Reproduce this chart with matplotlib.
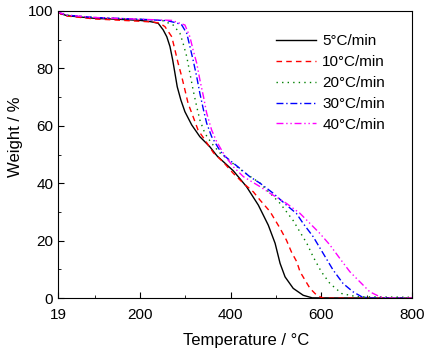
import matplotlib
matplotlib.use('Agg')
import matplotlib.pyplot as plt
from matplotlib.ticker import MultipleLocator, FixedLocator

plt.rcParams['font.family'] = ['Liberation Sans', 'DejaVu Sans']

# TGA curves (temperature in C, weight in %)
t_5 = [19, 25, 40, 100, 150, 200, 222, 240, 251, 259, 266, 272, 277, 282, 290, 299, 314, 332, 354, 370,
       406, 435, 461, 483, 498, 509, 520, 538, 560, 580, 800]
w_5 = [100, 99, 98.3, 97.4, 97.1, 96.7, 96.3, 95.7, 93.4, 91, 87.6, 82.9, 78.3, 73.6, 69, 64.9, 60.3, 56.2, 52.7, 49.5,
       44.3, 38.8, 32.4, 25.4, 19.1, 12.1, 7.4, 3.4, 1, 0.1, 0]

t_10 = [19, 25, 40, 100, 150, 200, 230, 244, 255, 270, 277, 284, 292, 299, 306, 317, 328, 343, 362, 384,
        406, 428, 450, 465, 487, 509, 523, 534, 546, 553, 564, 575, 590, 604, 800]
w_10 = [100, 98.9, 98.2, 97.2, 96.8, 96.4, 96.1, 95.7, 94.5, 91, 86.4, 81.8, 77.1, 72.5, 67.8, 63.2, 58.5, 55.1, 50.6, 47.3,
        43.4, 40, 37, 34.1, 30.1, 24.3, 20.2, 16.1, 12.6, 9.2, 6.3, 3.4, 1, 0, 0]

t_20 = [19, 25, 40, 100, 200, 250, 273, 288, 295, 303, 310, 317, 325, 332, 343, 358, 376, 400, 428, 465,
        487, 509, 538, 553, 568, 582, 600, 619, 645, 678, 740, 800]
w_20 = [100, 99.2, 98.5, 97.7, 97.1, 96.6, 95.1, 92.2, 88.7, 84.1, 78.3, 72.5, 66.7, 62, 57.4, 53.9, 50.6, 47.5, 44, 40,
        36.5, 33, 27, 23, 19.1, 14.4, 9.2, 5.1, 1.6, 0.5, 0.4, 0.3]

t_30 = [19, 25, 40, 100, 200, 260, 281, 292, 303, 310, 317, 325, 332, 340, 347, 358, 373, 384, 420, 442,
        465, 494, 523, 545, 560, 582, 604, 626, 648, 670, 689, 710, 800]
w_30 = [100, 99.2, 98.5, 97.7, 97.1, 96.6, 95.8, 95.1, 92.2, 87.6, 82.9, 77.1, 71.3, 65.5, 60.9, 56.2, 52.2, 49.8, 45.2, 42.3,
        40, 36.5, 32.4, 29.5, 26, 21.4, 15.6, 9.8, 5.1, 2.2, 0.5, 0, 0]

t_40 = [19, 25, 40, 100, 200, 270, 299, 310, 317, 325, 332, 340, 347, 358, 369, 387, 406, 428, 465, 487,
        523, 553, 575, 597, 619, 641, 663, 685, 707, 729, 744, 800]
w_40 = [100, 99.2, 98.5, 97.7, 97.1, 96.7, 95.1, 91, 86.4, 81.8, 76, 70.1, 64.4, 58.5, 54.5, 49.6, 45.7, 42.3, 38.8, 36.5,
        33, 29.5, 26, 22.5, 18.5, 13.8, 9.2, 5.7, 2.2, 0.5, 0, 0]

labels = ['5°C/min', '10°C/min', '20°C/min', '30°C/min', '40°C/min']

fig = plt.figure(figsize=(4.3, 3.52), dpi=100)
ax = fig.add_axes([0.135, 0.153, 0.823, 0.816])

ax.plot(t_5, w_5, color='black', lw=1.0, ls='-', label=labels[0])
ax.plot(t_10, w_10, color='red', lw=1.0, ls=(0, (4, 3)), label=labels[1])
ax.plot(t_20, w_20, color='#008000', lw=1.0, ls=(0, (1, 3)), label=labels[2])
ax.plot(t_30, w_30, color='blue', lw=1.0, ls=(0, (5, 2, 1, 2)), label=labels[3])
ax.plot(t_40, w_40, color='magenta', lw=1.0, ls=(0, (5, 2, 1, 2, 1, 2)), label=labels[4])

ax.set_xlim(19, 800)
ax.set_ylim(0, 100)
ax.xaxis.set_major_locator(FixedLocator([19, 200, 400, 600, 800]))
ax.xaxis.set_minor_locator(FixedLocator([100, 300, 500, 700]))
ax.yaxis.set_major_locator(MultipleLocator(20))
ax.yaxis.set_minor_locator(MultipleLocator(10))
ax.tick_params(which='both', direction='in', top=False, right=False, labelsize=11)
ax.tick_params(which='major', length=4)
ax.tick_params(which='minor', length=2.5)
ax.tick_params(axis='x', which='major', pad=7)

ax.set_xlabel('Temperature / °C', fontsize=12)
ax.set_ylabel('Weight / %', fontsize=12)
ax.xaxis.set_label_coords(0.531, -0.12)
ax.yaxis.set_label_coords(-0.10, 0.561)

ax.legend(loc='upper left', bbox_to_anchor=(0.6, 0.94), frameon=False, fontsize=11,
          handlelength=2.6, handletextpad=0.4, labelspacing=0.45, borderaxespad=0)

fig.savefig('out.png', dpi=100)
